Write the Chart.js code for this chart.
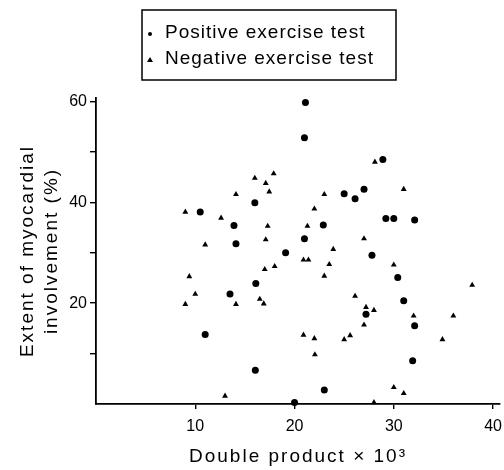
<!DOCTYPE html>
<html>
<head>
<meta charset="utf-8">
<script src="https://cdn.jsdelivr.net/npm/chart.js@4"></script>
<style>
    html, body { margin: 0; padding: 0; background: #fff; }
</style>
</head>
<body>
<canvas id="exerciseChart" width="504" height="470"></canvas>
<script>
// values (x = double product / 1000, y = % involvement)
const positiveX = [10.5, 13.9, 14.1, 16.0, 21.1, 21.0, 28.9, 25.0, 26.1, 27.0, 29.2, 30.0, 32.1, 22.9,
    21.0, 19.1, 16.1, 13.5, 11.0, 16.05, 27.8, 30.4, 31.0, 32.1, 27.2, 31.9, 23.0, 20.0];
const positiveY = [38.1, 35.4, 31.8, 39.9, 59.8, 52.8, 48.5, 41.7, 40.7, 42.6, 36.8, 36.8, 36.5, 35.5,
    32.8, 30.0, 23.9, 21.8, 13.8, 6.7, 29.5, 25.1, 20.5, 15.5, 17.8, 8.6, 2.8, 0.3];

const negativeX = [9.0, 11.0, 12.6, 14.1, 16.0, 17.1, 17.9, 17.45, 17.3, 17.1, 28.1, 31.0, 23.0, 22.0,
    21.3, 27.0, 23.9, 18.0, 17.0, 9.4, 10.0, 9.0, 14.1, 16.5, 16.9, 13.0, 20.9, 21.4, 23.5, 23.0,
    30.0, 37.9, 26.1, 27.2, 28.0, 32.0, 36.0, 27.0, 20.9, 22.0, 25.0, 25.6, 34.9, 22.05, 30.0, 31.0, 28.0];
const negativeY = [38.1, 31.6, 36.9, 41.6, 44.8, 43.8, 45.7, 42.1, 35.3, 32.6, 48.0, 42.6, 41.6, 38.7,
    35.3, 32.8, 30.7, 27.3, 26.7, 25.3, 21.8, 19.8, 19.8, 20.8, 19.9, 1.6, 28.6, 28.6, 27.7, 25.4,
    27.6, 23.6, 21.4, 19.2, 18.6, 17.5, 17.5, 15.7, 13.7, 13.0, 12.8, 13.6, 12.8, 9.8, 3.3, 2.1, 0.3];

const xTicks = [10, 20, 30, 40];
const yTicks = [10, 20, 30, 40, 50, 60];
const yLabelled = [20, 40, 60];

const seriesNames = ['Positive exercise test', 'Negative exercise test'];

const FONT = "'Liberation Sans', Arial, Helvetica, sans-serif";

function toPoints(xs, ys) {
    return xs.map((x, i) => ({ x: x, y: ys[i] }));
}

// loosely set lettering for titles and legend (like the printed figure)
const spacingPlugin = {
    id: 'spacing',
    beforeDraw(chart) {
        chart.ctx.letterSpacing = '2px';
    },
    beforeDatasetsDraw(chart) {
        chart.ctx.letterSpacing = '0px';
    }
};

// boxed legend at the top of the figure
const boxLegend = {
    id: 'boxLegend',
    afterDraw(chart) {
        const ctx = chart.ctx;
        ctx.save();
        ctx.strokeStyle = '#000';
        ctx.lineWidth = 1.5;
        ctx.strokeRect(142, 10, 254, 70);

        ctx.fillStyle = '#000';
        // dot
        ctx.beginPath();
        ctx.arc(150, 34, 2, 0, Math.PI * 2);
        ctx.fill();
        // triangle
        ctx.beginPath();
        ctx.moveTo(150, 57);
        ctx.lineTo(153, 62);
        ctx.lineTo(147, 62);
        ctx.closePath();
        ctx.fill();

        ctx.letterSpacing = '1px';
        ctx.font = '19px ' + FONT;
        ctx.textBaseline = 'middle';
        ctx.textAlign = 'left';
        ctx.fillText(chart.data.datasets[0].label, 165, 33);
        ctx.fillText(chart.data.datasets[1].label, 165, 59);
        ctx.restore();
    }
};

new Chart(document.getElementById('exerciseChart'), {
    type: 'scatter',
    data: {
        datasets: [
            {
                label: seriesNames[0],
                data: toPoints(positiveX, positiveY),
                pointStyle: 'circle',
                pointRadius: 3.5,
                backgroundColor: '#000',
                borderColor: '#000',
                borderWidth: 0,
                clip: false
            },
            {
                label: seriesNames[1],
                data: toPoints(negativeX, negativeY),
                pointStyle: 'triangle',
                pointRadius: 3.4,
                backgroundColor: '#000',
                borderColor: '#000',
                borderWidth: 0,
                clip: false
            }
        ]
    },
    options: {
        responsive: false,
        animation: false,
        layout: {
            padding: { top: 98, right: 4, left: 0, bottom: 0 }
        },
        plugins: {
            legend: { display: false },
            tooltip: { enabled: false }
        },
        scales: {
            x: {
                type: 'linear',
                min: 0,
                max: 40.7,
                border: { display: true, color: '#000', width: 1.8 },
                grid: { display: true, drawOnChartArea: false, drawTicks: true, tickLength: 5, color: '#000', lineWidth: 1.4 },
                ticks: {
                    color: '#000',
                    font: { family: FONT, size: 16 },
                    padding: 8,
                    z: 1,
                    maxRotation: 0
                },
                afterBuildTicks: scale => {
                    scale.ticks = xTicks.map(v => ({ value: v }));
                },
                afterFit: scale => {
                    scale.height = 66;
                    scale.paddingLeft = 0;
                    scale.paddingRight = 0;
                },
                title: {
                    display: true,
                    text: 'Double product × 10³',
                    color: '#000',
                    font: { family: FONT, size: 19 },
                    padding: { top: 0, bottom: 2 }
                }
            },
            y: {
                type: 'linear',
                min: 0,
                max: 60.7,
                border: { display: true, color: '#000', width: 1.8 },
                grid: { display: true, drawOnChartArea: false, drawTicks: true, tickLength: 6, color: '#000', lineWidth: 1.4 },
                ticks: {
                    color: '#000',
                    font: { family: FONT, size: 16 },
                    padding: 3,
                    z: 1,
                    callback: v => yLabelled.includes(v) ? String(v) : ''
                },
                afterBuildTicks: scale => {
                    scale.ticks = yTicks.map(v => ({ value: v }));
                },
                afterFit: scale => {
                    scale.width = 96;
                    scale.paddingTop = 0;
                    scale.paddingBottom = 0;
                },
                title: {
                    display: true,
                    text: ['Extent of myocardial', 'involvement (%)'],
                    color: '#000',
                    font: { family: FONT, size: 19, lineHeight: 1.25 },
                    padding: { top: 16, bottom: 0 }
                }
            }
        }
    },
    plugins: [spacingPlugin, boxLegend]
});
</script>
</body>
</html>
